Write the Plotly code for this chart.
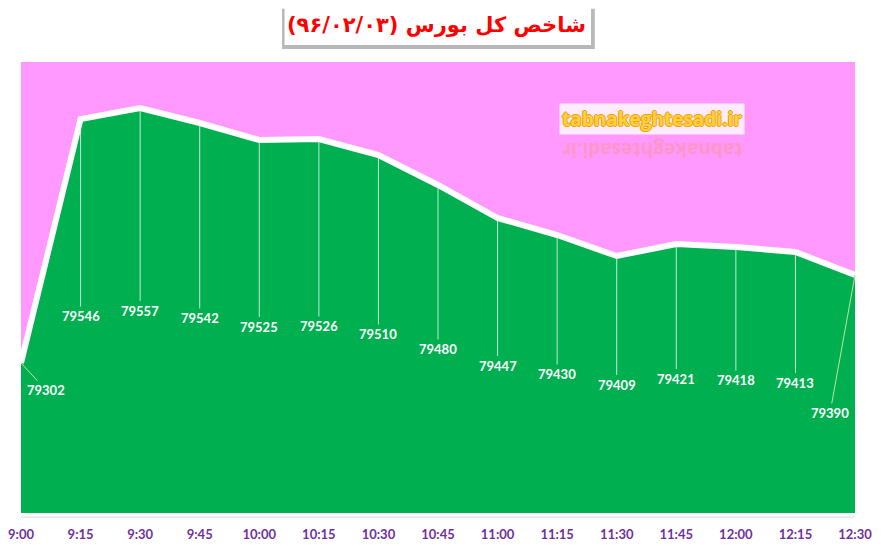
import plotly.graph_objects as go

# Data
times = ['9:00', '9:15', '9:30', '9:45', '10:00', '10:15', '10:30', '10:45',
         '11:00', '11:15', '11:30', '11:45', '12:00', '12:15', '12:30']
index_values = [79302, 79546, 79557, 79542, 79525, 79526, 79510, 79480,
                79447, 79430, 79409, 79421, 79418, 79413, 79390]

title_text = 'شاخص کل بورس (۹۶/۰۲/۰۳)'
site_text = 'tabnakeghtesadi.ir'

y_min, y_max = 79152, 79603
x_pos = list(range(len(times)))

fig = go.Figure()

# green area with thick white edge
fig.add_trace(go.Scatter(
    x=x_pos, y=index_values, mode='lines',
    fill='tozeroy', fillcolor='#00B050',
    line=dict(color='white', width=6),
    hoverinfo='skip', showlegend=False
))

# value labels with leader lines
annotations = []
last = len(index_values) - 1
for i, v in enumerate(index_values):
    ann = dict(x=i, y=v, xref='x', yref='y', text=str(v), showarrow=True,
               arrowhead=0, arrowwidth=1, standoff=0,
               font=dict(family='Lato', size=13, color='white', weight='bold'))
    if i == 0:
        ann.update(ax=25, ay=27, arrowcolor='#C4E09A')
    elif i == last:
        ann.update(ax=-25, ay=138, arrowcolor='#C4E09A')
    else:
        ann.update(axref='x', ayref='y', ax=i, ay=(v + y_min) / 2,
                   arrowcolor='rgba(255,255,255,0.75)')
    annotations.append(ann)

# watermark and its reflection
annotations.append(dict(
    x=0.757, y=0.873, xref='paper', yref='paper', text=site_text, showarrow=False,
    xanchor='center', yanchor='middle',
    font=dict(family='Open Sans', size=19, color='#FFD040', weight='bold',
              shadow='1px 0 0 #F0A000, -1px 0 0 #F0A000, 0 1px 0 #F0A000, 0 -1px 0 #F0A000'),
    bgcolor='rgba(255,255,255,0.8)', borderpad=2
))
annotations.append(dict(
    x=0.757, y=0.805, xref='paper', yref='paper', text=site_text, showarrow=False,
    xanchor='center', yanchor='middle', textangle=180, opacity=0.3,
    font=dict(family='Open Sans', size=19, color='#FF8C40', weight='bold')
))

# title
annotations.append(dict(
    x=0.4988, y=1.082, xref='paper', yref='paper', text=title_text, showarrow=False,
    xanchor='center', yanchor='middle',
    font=dict(family='DejaVu Sans', size=21, color='#FF0000', weight='bold')
))

shapes = [
    # title box shadow and box
    dict(type='rect', xref='paper', yref='paper', x0=0.313, x1=0.688, y0=1.029, y1=1.118,
         fillcolor='rgba(0,0,0,0.28)', line=dict(width=0), layer='above'),
    dict(type='rect', xref='paper', yref='paper', x0=0.316, x1=0.6835, y0=1.0377, y1=1.1264,
         fillcolor='white', line=dict(width=0), layer='above'),
    # faint axis line
    dict(type='line', xref='paper', yref='paper', x0=0, x1=1, y0=-0.009, y1=-0.009,
         line=dict(color='#D9D9D9', width=1)),
]

# page body adds an 8px offset, so margins are shifted by that amount
fig.update_layout(
    width=881, height=550,
    margin=dict(l=13, r=34, t=54, b=45, autoexpand=False),
    paper_bgcolor='white', plot_bgcolor='#FF99FF',
    showlegend=False,
    annotations=annotations, shapes=shapes,
    xaxis=dict(range=[0, 14], tickmode='array', tickvals=x_pos, ticktext=times,
               showgrid=False, zeroline=False, showline=False, ticks='',
               automargin=False, ticklabelstandoff=12,
               tickfont=dict(family='Lato', size=13, color='#7030A0', weight='bold')),
    yaxis=dict(range=[y_min, y_max], visible=False, showgrid=False, zeroline=False,
               automargin=False),
)

fig.write_html("out.html")
